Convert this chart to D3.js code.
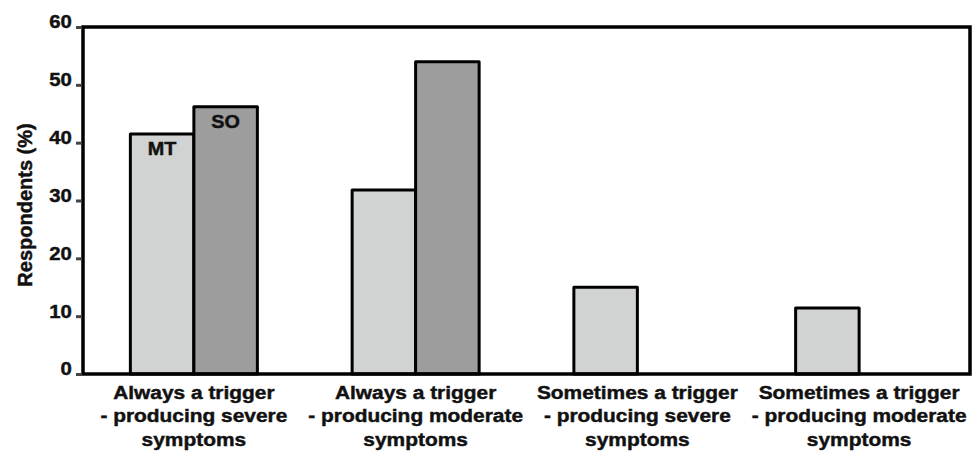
<!DOCTYPE html>
<html>
<head>
<meta charset="utf-8">
<script src="https://cdn.jsdelivr.net/npm/d3@7"></script>
<style>
  html, body { margin: 0; padding: 0; background: #fff; }
  svg { display: block; font-family: "Liberation Sans", Arial, sans-serif; }
  svg text { stroke: #111; stroke-width: 0.45px; paint-order: stroke; }
</style>
</head>
<body>
<svg id="chart" width="980" height="453"></svg>
<script>
const categories = [
  ["Always a trigger", "- producing severe", "symptoms"],
  ["Always a trigger", "- producing moderate", "symptoms"],
  ["Sometimes a trigger", "- producing severe", "symptoms"],
  ["Sometimes a trigger", "- producing moderate", "symptoms"]
];
const seriesNames = ["MT", "SO"];
const mtValues = [41.5, 31.8, 15.0, 11.4];
const soValues = [46.2, 54.0, null, null];
const yTicks = [0, 10, 20, 30, 40, 50, 60];
const yTitle = "Respondents (%)";
const seriesColors = { MT: "#d1d3d2", SO: "#9d9d9d" };

(function () {
const svg = d3.select("#chart");
const mLeft = 83, mRight = 970, mTop = 27, mBottom = 374;
const sx = 1.1;

const keys = categories.map((c, i) => "c" + i);
const x0 = d3.scaleBand().domain(keys).range([mLeft, mRight]).paddingInner(0).paddingOuter(0);
const x1 = d3.scaleBand().domain(seriesNames).range([0, x0.bandwidth()]).paddingInner(0).paddingOuter(0.746);
const y = d3.scaleLinear().domain([0, 60]).range([mBottom, mTop]);

const rows = [];
keys.forEach((k, i) => {
  rows.push({ key: k, s: "MT", v: mtValues[i], idx: i });
  if (soValues[i] != null) rows.push({ key: k, s: "SO", v: soValues[i], idx: i });
});

// bars
svg.append("g").selectAll("rect").data(rows).join("rect")
  .attr("x", d => x0(d.key) + x1(d.s))
  .attr("y", d => y(d.v))
  .attr("width", x1.bandwidth())
  .attr("height", d => y(0) - y(d.v))
  .attr("fill", d => seriesColors[d.s])
  .attr("stroke", "#000")
  .attr("stroke-width", 3)
  .attr("stroke-linejoin", "round");

// series labels in first group
svg.append("g").selectAll("text").data(rows.filter(d => d.idx === 0)).join("text")
  .attr("transform", d => `translate(${x0(d.key) + x1(d.s) + x1.bandwidth() / 2},${y(d.v) + 21}) scale(${sx},1)`)
  .attr("text-anchor", "middle")
  .attr("font-size", 18)
  .attr("font-weight", "bold")
  .attr("fill", "#111")
  .text(d => d.s);

// frame
svg.append("rect")
  .attr("x", mLeft).attr("y", mTop)
  .attr("width", mRight - mLeft).attr("height", mBottom - mTop)
  .attr("fill", "none").attr("stroke", "#000").attr("stroke-width", 3.5);

// y axis
const yAxis = svg.append("g").attr("transform", `translate(${mLeft - 1},0)`)
  .call(d3.axisLeft(y).tickValues(yTicks).tickSize(6).tickPadding(4).tickFormat(d3.format("d")));
yAxis.select(".domain").remove();
yAxis.selectAll(".tick line").attr("stroke", "#444").attr("stroke-width", 3);
yAxis.selectAll(".tick text")
  .attr("font-size", 18.5).attr("font-weight", "bold").attr("fill", "#111")
  .attr("font-family", "Liberation Sans, Arial, sans-serif")
  .attr("x", -9.3)
  .attr("dy", "0.05em")
  .attr("transform", `scale(${sx},1)`);

// y title
svg.append("text")
  .attr("transform", `translate(32,205) rotate(-90)`)
  .attr("text-anchor", "middle")
  .attr("font-size", 20)
  .attr("font-weight", "bold")
  .attr("fill", "#111")
  .text(yTitle);

// x labels
const xl = svg.append("g").selectAll("text").data(categories.map((c, i) => ({ key: keys[i], lines: c }))).join("text")
  .attr("transform", d => `translate(${x0(d.key) + x0.bandwidth() / 2},399) scale(${sx},1)`)
  .attr("text-anchor", "middle")
  .attr("font-size", 19)
  .attr("font-weight", "bold")
  .attr("fill", "#111");
xl.selectAll("tspan").data(d => d.lines).join("tspan")
  .attr("x", 0)
  .attr("dy", (t, i) => i === 0 ? 0 : 23.5)
  .text(t => t);
})();
</script>
</body>
</html>
